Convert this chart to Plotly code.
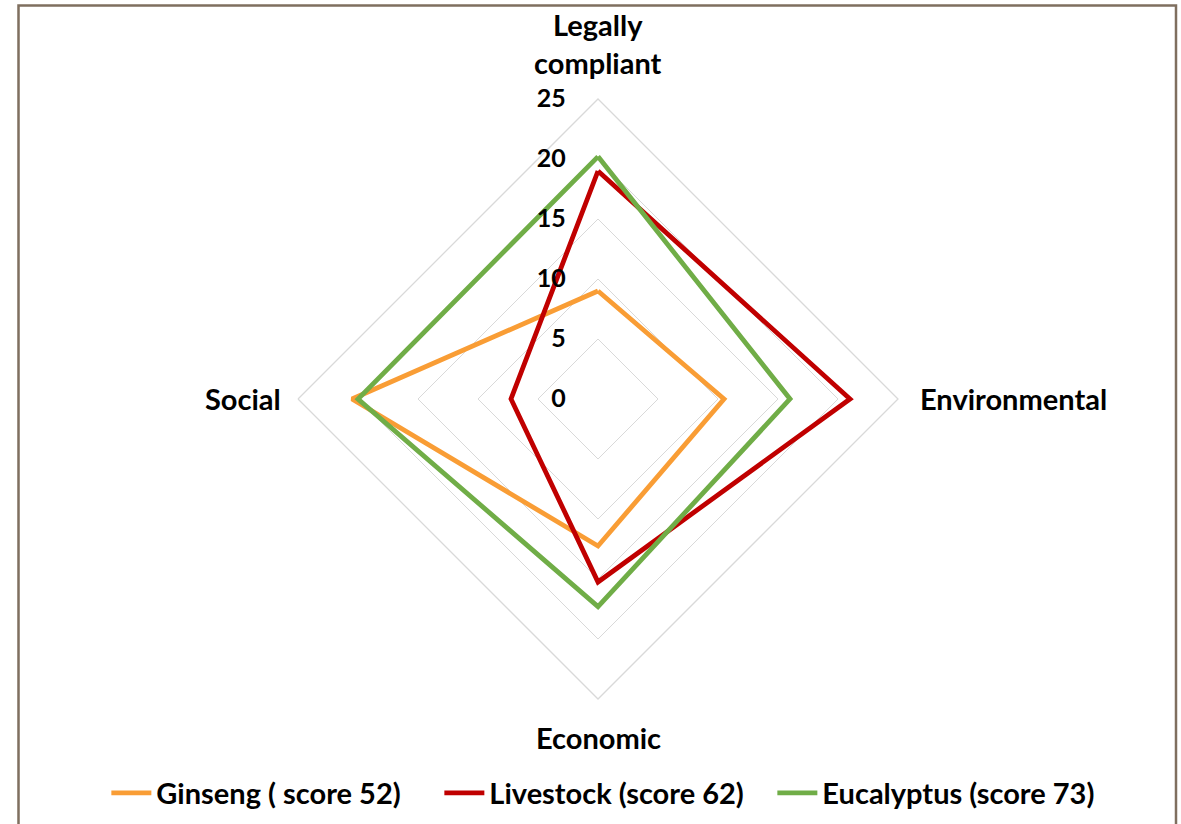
import plotly.graph_objects as go

categories = ["Legally compliant", "Environmental", "Economic", "Social"]
series_names = ["Ginseng ( score 52)", "Livestock (score 62)", "Eucalyptus (score 73)"]
ginseng = [9, 10.5, 12.25, 20.5]
livestock = [19, 21, 15.25, 7.25]
eucalyptus = [20.2, 16, 17.3, 20]
colors = ["#F99D35", "#C00000", "#70AD47"]
radial_ticks = [0, 5, 10, 15, 20, 25]

W, H = 1181, 824
font_family = "Lato, Carlito, 'Open Sans', sans-serif"

fig = go.Figure()
for name, vals, col in zip(series_names, [ginseng, livestock, eucalyptus], colors):
    fig.add_trace(go.Scatterpolar(
        r=vals + [vals[0]],
        theta=categories + [categories[0]],
        mode="lines",
        name=name,
        line=dict(color=col, width=4.8),
    ))

cx, cy, R = 598, 399, 300

def px(x):
    return x / W

def py(y):
    return (H - y) / H

label_font = dict(size=29, family=font_family, weight="bold", color="black")
annotations = [
    dict(text="Legally<br>compliant", x=px(598), y=py(43), xanchor="center", yanchor="middle"),
    dict(text="Environmental", x=px(1013), y=py(399), xanchor="center", yanchor="middle"),
    dict(text="Economic", x=px(598), y=py(737), xanchor="center", yanchor="middle"),
    dict(text="Social", x=px(243), y=py(399), xanchor="center", yanchor="middle"),
]
for a in annotations:
    a.update(xref="paper", yref="paper", showarrow=False, font=label_font)

fig.update_layout(
    width=W, height=H,
    margin=dict(l=0, r=0, t=0, b=0),
    paper_bgcolor="white",
    font=dict(family=font_family, color="black"),
    polar=dict(
        domain=dict(x=[px(cx - R), px(cx + R)], y=[py(cy + R), py(cy - R)]),
        gridshape="linear",
        bgcolor="white",
        radialaxis=dict(
            range=[0, 25], tickvals=radial_ticks, angle=90, tickangle=90,
            showline=False, gridcolor="#D9D9D9", gridwidth=1.3,
            ticks="outside", ticklen=23, tickcolor="rgba(0,0,0,0)",
            side="counterclockwise",
            tickfont=dict(size=25, family=font_family, weight="bold"),
        ),
        angularaxis=dict(
            rotation=90, direction="clockwise",
            showgrid=False, showline=True, linecolor="#D9D9D9", linewidth=1.3,
            ticks="", showticklabels=False,
        ),
    ),
    legend=dict(
        orientation="h", x=0.513, xanchor="center", y=py(793), yanchor="middle",
        font=dict(size=29, family=font_family, weight="bold"),
        itemwidth=40, tracegroupgap=0, entrywidth=278, entrywidthmode="pixels",
    ),
    annotations=annotations,
    shapes=[dict(type="rect", xref="paper", yref="paper",
                 x0=px(18.5), x1=px(1176), y0=-0.05, y1=py(5.5),
                 line=dict(color="#7F6F5F", width=2.5))],
)

fig.write_html("out.html", config={"displayModeBar": False},
               post_script="document.body.style.margin='0';document.body.style.padding='0';")
